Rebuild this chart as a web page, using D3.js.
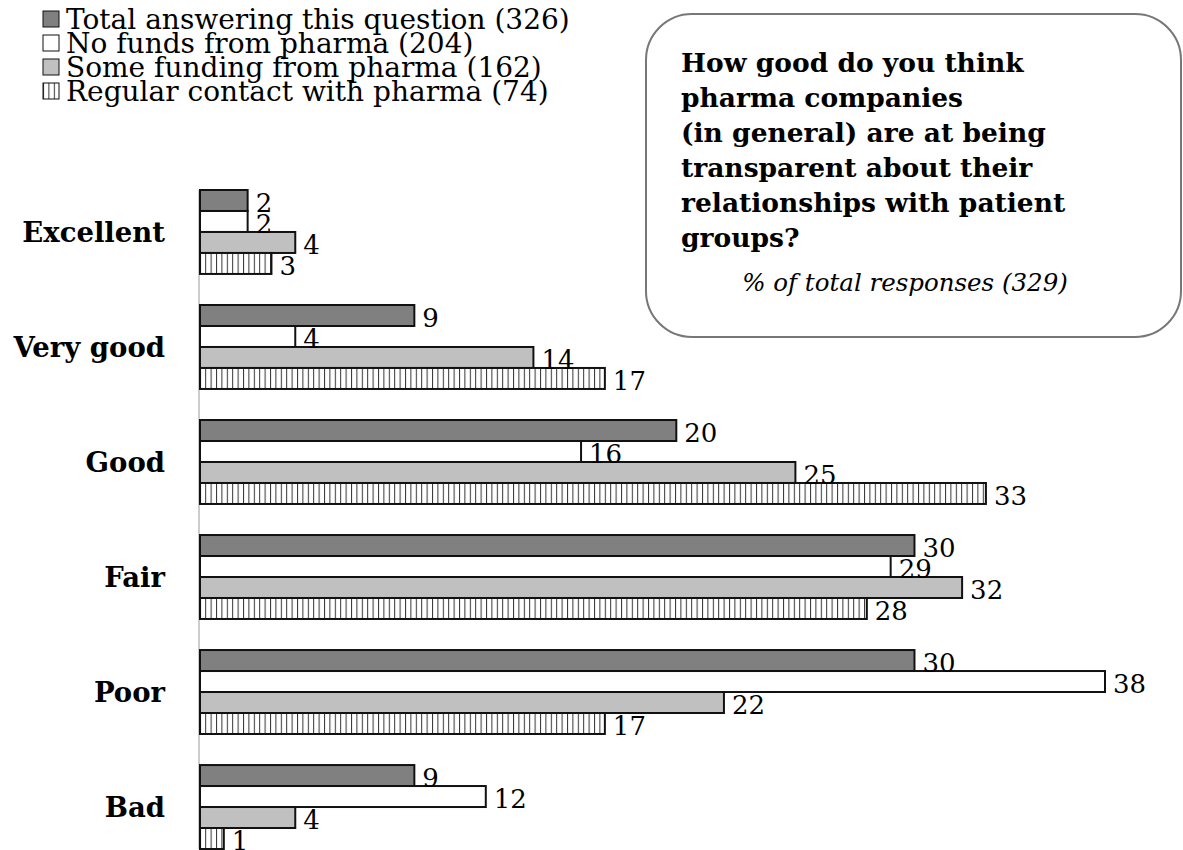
<!DOCTYPE html>
<html>
<head>
<meta charset="utf-8">
<script src="https://cdn.jsdelivr.net/npm/d3@7"></script>
<style>
  body { margin: 0; background: #fff; }
  text { font-family: "DejaVu Serif", serif; fill: #000; }
</style>
</head>
<body>
<script>
'use strict';

// categories (rating answers)
const categories = ['Excellent', 'Very good', 'Good', 'Fair', 'Poor', 'Bad'];

// series names as shown in the legend
const seriesNames = [
  'Total answering this question (326)',
  'No funds from pharma (204)',
  'Some funding from pharma (162)',
  'Regular contact with pharma (74)'
];

// % values per series, in category order
const totalVals = [2, 9, 20, 30, 30, 9];
const noFundsVals = [2, 4, 16, 29, 38, 12];
const someFundsVals = [4, 14, 25, 32, 22, 4];
const regularVals = [3, 17, 33, 28, 17, 1];

const questionLines = [
  'How good do you think',
  'pharma companies',
  '(in general) are at being',
  'transparent about their',
  'relationships with patient',
  'groups?'
];
const subtitle = '% of total responses (329)';

(function () {

  const width = 1183, height = 850;
  const fills = ['#808080', '#ffffff', '#c0c0c0', 'url(#vhatch)'];
  const seriesVals = [totalVals, noFundsVals, someFundsVals, regularVals];

  let svg = d3.select('body')
    .append('svg')
    .attr('width', width)
    .attr('height', height);

  // vertical hatch for the last series
  let pat = svg.append('defs')
    .append('pattern')
    .attr('id', 'vhatch')
    .attr('patternUnits', 'userSpaceOnUse')
    .attr('width', 5.4)
    .attr('height', 10);
  pat.append('rect').attr('width', 5.4).attr('height', 10).attr('fill', '#fff');
  pat.append('line')
    .attr('x1', 0.5).attr('x2', 0.5).attr('y1', 0).attr('y2', 10)
    .attr('stroke', '#333').attr('stroke-width', 1);

  // scales
  let xScale = d3.scaleLinear()
    .domain([0, 38])
    .range([200, 1105]);

  let yScale = d3.scaleBand()
    .domain(categories)
    .range([190, 849])
    .paddingInner(0.27)
    .paddingOuter(0);

  let innerScale = d3.scaleBand()
    .domain(d3.range(seriesNames.length))
    .range([0, yScale.bandwidth()]);

  // category axis: light grey line at the bar base
  svg.append('line')
    .attr('x1', xScale(0) - 1).attr('x2', xScale(0) - 1)
    .attr('y1', yScale.range()[0]).attr('y2', yScale.range()[1])
    .attr('stroke', '#bbb')
    .attr('stroke-width', 1.5);

  // category labels
  svg.append('g')
    .selectAll('text')
    .data(categories)
    .enter()
    .append('text')
    .attr('x', 165)
    .attr('y', (d) => yScale(d) + yScale.bandwidth() / 2)
    .attr('dy', '0.35em')
    .attr('text-anchor', 'end')
    .style('font-size', '27.5px')
    .style('font-weight', 'bold')
    .text((d) => d);

  // bars
  let groups = svg.append('g')
    .selectAll('g')
    .data(categories)
    .enter()
    .append('g')
    .attr('transform', (d) => 'translate(0,' + yScale(d) + ')');

  groups.selectAll('rect')
    .data((d, i) => seriesVals.map((vals, s) => ({ s: s, v: vals[i] })))
    .enter()
    .append('rect')
    .attr('x', xScale(0))
    .attr('y', (d) => innerScale(d.s))
    .attr('width', (d) => xScale(d.v) - xScale(0))
    .attr('height', innerScale.bandwidth())
    .attr('fill', (d) => fills[d.s])
    .attr('stroke', '#111')
    .attr('stroke-width', 2);

  // value labels
  groups.selectAll('text')
    .data((d, i) => seriesVals.map((vals, s) => ({ s: s, v: vals[i] })))
    .enter()
    .append('text')
    .attr('x', (d) => xScale(d.v) + 8)
    .attr('y', (d) => innerScale(d.s) + innerScale.bandwidth() / 2 + 2)
    .attr('dy', '0.35em')
    .style('font-size', '26px')
    .text((d) => d.v);

  // legend
  let legend = svg.append('g')
    .selectAll('g')
    .data(seriesNames)
    .enter()
    .append('g')
    .attr('transform', (d, i) => 'translate(43,' + (29 + i * 24) + ')');

  legend.append('rect')
    .attr('y', -18)
    .attr('width', 16)
    .attr('height', 16)
    .attr('fill', (d, i) => fills[i])
    .attr('stroke', '#111')
    .attr('stroke-width', 1);

  legend.append('text')
    .attr('x', 23)
    .attr('y', 0)
    .style('font-size', '28px')
    .text((d) => d);

  // question callout
  svg.append('rect')
    .attr('x', 646)
    .attr('y', 14)
    .attr('width', 535)
    .attr('height', 323)
    .attr('rx', 46)
    .attr('fill', '#fff')
    .attr('stroke', '#777')
    .attr('stroke-width', 2);

  svg.append('g')
    .selectAll('text')
    .data(questionLines)
    .enter()
    .append('text')
    .attr('x', 681)
    .attr('y', (d, i) => 72 + i * 35)
    .style('font-size', '26.5px')
    .style('font-weight', 'bold')
    .text((d) => d);

  svg.append('text')
    .attr('x', 905)
    .attr('y', 291)
    .attr('text-anchor', 'middle')
    .style('font-size', '24.5px')
    .style('font-style', 'italic')
    .text(subtitle);

})();
</script>
</body>
</html>
